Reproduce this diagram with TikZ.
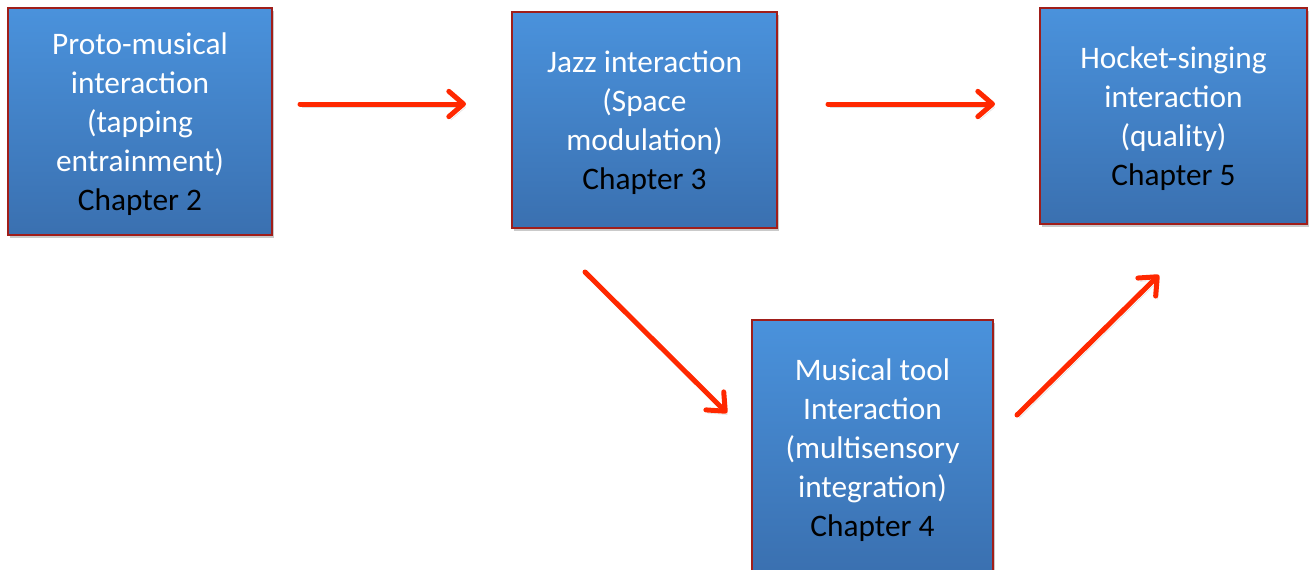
\documentclass[tikz,border=0pt]{standalone}
\usepackage{fontspec}
\setmainfont{Carlito}
\usetikzlibrary{arrows.meta,shadows}
\definecolor{boxtop}{RGB}{74,146,220}
\definecolor{boxbot}{RGB}{58,112,176}
\definecolor{boxline}{RGB}{160,30,26}
\definecolor{arrowred}{RGB}{255,40,0}
\tikzset{
  chapbox/.style={draw=boxline, line width=1.5pt, top color=boxtop, bottom color=boxbot,
    inner sep=0pt,
    drop shadow={shadow xshift=1.5pt, shadow yshift=-2.5pt, opacity=0.35, fill=black!60}},
  chaptext/.style={align=center, text=white, inner sep=0pt, font=\fontsize{23.5}{29.25}\selectfont},
  redarrow/.style={draw=arrowred, line width=3.75pt, line cap=round,
    -{Straight Barb[length=11pt,width=19pt,round]},
    preaction={draw=black!50, opacity=0.25, transform canvas={shift={(1.5pt,-2.5pt)}}}},
}
\begin{document}
\begin{tikzpicture}[x=0.75pt,y=-0.75pt]
\useasboundingbox (0,0) rectangle (1311,569);
\clip (0,0) rectangle (1311,569);
\node[chapbox, minimum width={264*0.75pt}, minimum height={227*0.75pt}] (b1) at (140,121.5) {};
\node[chapbox, minimum width={265*0.75pt}, minimum height={216*0.75pt}] (b2) at (644.5,120) {};
\node[chapbox, minimum width={267*0.75pt}, minimum height={216*0.75pt}] (b3) at (1173.5,116) {};
\node[chapbox, minimum width={241*0.75pt}, minimum height={254*0.75pt}] (b4) at (872.5,447) {};
\node[chaptext] (t1) at ([yshift=-2pt]b1.center)
  {Proto-musical\\interaction\\(tapping\\entrainment)\\\textcolor{black}{Chapter 2}};
\node[chaptext] (t2) at ([yshift=-2pt]b2.center)
  {Jazz interaction\\(Space\\modulation)\\\textcolor{black}{Chapter 3}};
\node[chaptext] (t3) at ([yshift=-2pt]b3.center)
  {Hocket-singing\\interaction\\(quality)\\\textcolor{black}{Chapter 5}};
\node[chaptext] (t4) at ([yshift=-2pt]b4.center)
  {Musical tool\\Interaction\\(multisensory\\integration)\\\textcolor{black}{Chapter 4}};
\coordinate (a1s) at (300,104);
\coordinate (a1e) at (466,104);
\coordinate (a2s) at (828,104);
\coordinate (a2e) at (995,104);
\coordinate (a3s) at (585,272);
\coordinate (a3e) at (727,413);
\coordinate (a4s) at (1017,415);
\coordinate (a4e) at (1159,275);
\draw[redarrow] (a1s) -- (a1e);
\draw[redarrow] (a2s) -- (a2e);
\draw[redarrow] (a3s) -- (a3e);
\draw[redarrow] (a4s) -- (a4e);
\end{tikzpicture}
\end{document}
